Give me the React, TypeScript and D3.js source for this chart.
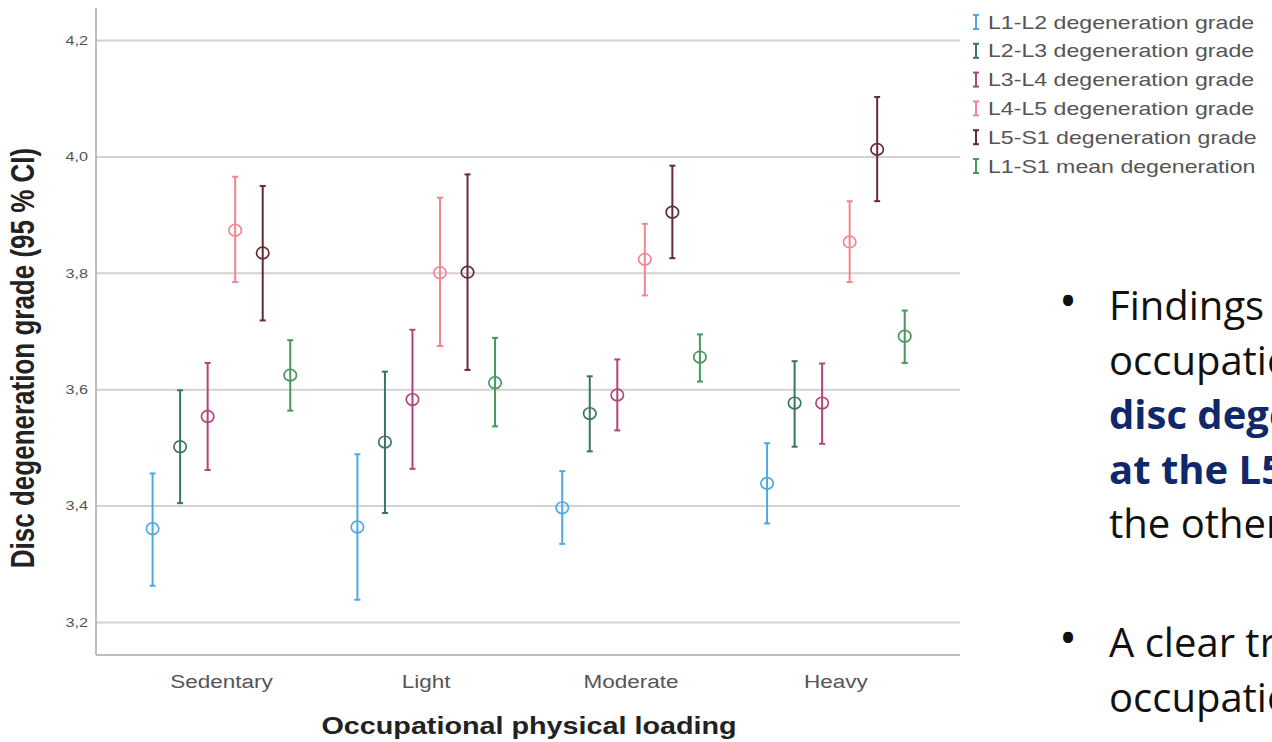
import { useEffect, useRef } from "react";
import * as d3 from "d3";

const categories = ["Sedentary", "Light", "Moderate", "Heavy"];
const seriesNames = [
  "L1-L2 degeneration grade",
  "L2-L3 degeneration grade",
  "L3-L4 degeneration grade",
  "L4-L5 degeneration grade",
  "L5-S1 degeneration grade",
  "L1-S1 mean degeneration",
];
const seriesColors = ["#4fa9e0", "#3a7469", "#b0457a", "#f2858f", "#642a36", "#47975f"];

// means and 95% CI per series, one value per category
const means = [
  [3.361, 3.364, 3.397, 3.439],
  [3.502, 3.51, 3.559, 3.577],
  [3.554, 3.583, 3.591, 3.577],
  [3.874, 3.801, 3.824, 3.854],
  [3.835, 3.802, 3.905, 4.013],
  [3.625, 3.612, 3.656, 3.692],
];
const lower = [
  [3.263, 3.239, 3.335, 3.37],
  [3.405, 3.388, 3.494, 3.502],
  [3.462, 3.464, 3.53, 3.507],
  [3.785, 3.675, 3.762, 3.785],
  [3.719, 3.634, 3.826, 3.924],
  [3.564, 3.537, 3.614, 3.646],
];
const upper = [
  [3.456, 3.489, 3.46, 3.508],
  [3.599, 3.631, 3.623, 3.649],
  [3.646, 3.703, 3.652, 3.645],
  [3.966, 3.93, 3.885, 3.924],
  [3.95, 3.97, 3.985, 4.103],
  [3.685, 3.689, 3.695, 3.736],
];
const yTicks = [3.2, 3.4, 3.6, 3.8, 4.0, 4.2];

const bulletLines = [
  { text: "Findings indicate", bold: false },
  { text: "occupational loading", bold: false },
  { text: "disc degeneration", bold: true },
  { text: "at the L5-S1 level", bold: true },
  { text: "the other levels", bold: false },
];
const bulletLines2 = [
  { text: "A clear trend", bold: false },
  { text: "occupational loading", bold: false },
];

const W = 1272;
const H = 742;
const STRETCH = 1.25; // the chart picture is stretched sideways
const FONT = "'Liberation Sans', Arial, sans-serif";

export default function App() {
  const svgRef = useRef<SVGSVGElement>(null);

  useEffect(() => {
    const svg = d3.select(svgRef.current);
    svg.selectAll("*").remove();
    svg.append("rect").attr("width", W).attr("height", H).attr("fill", "#ffffff");

    const left = 96;
    const right = 960;
    const top = 8;
    const bottom = 655;

    const y = d3.scaleLinear().domain([3.144, 4.256]).range([bottom, top]);
    const x = d3.scaleBand<string>().domain(categories).range([119, 938.3]);
    const xs = d3.scalePoint<string>().domain(seriesNames).range([0, x.bandwidth()]).padding(1.22);

    const stretched = (px: number, py: number) =>
      svg.append("g").attr("transform", `translate(${px},${py}) scale(${STRETCH},1)`);

    // gridlines
    svg.append("g")
      .selectAll("line")
      .data(yTicks)
      .join("line")
      .attr("x1", left)
      .attr("x2", right)
      .attr("y1", (d) => y(d))
      .attr("y2", (d) => y(d))
      .attr("stroke", "#d2d2d2")
      .attr("stroke-width", 2);

    // axes lines
    svg.append("line")
      .attr("x1", left).attr("x2", left).attr("y1", top).attr("y2", bottom)
      .attr("stroke", "#a8a8a8").attr("stroke-width", 1.5);
    svg.append("line")
      .attr("x1", left).attr("x2", right).attr("y1", bottom).attr("y2", bottom)
      .attr("stroke", "#a8a8a8").attr("stroke-width", 1.5);

    // y tick labels
    yTicks.forEach((t) => {
      stretched(88, y(t))
        .append("text")
        .attr("text-anchor", "end")
        .attr("dominant-baseline", "central")
        .attr("font-family", FONT)
        .attr("font-size", 13)
        .attr("fill", "#555")
        .text(t.toFixed(1).replace(".", ","));
    });

    // x tick labels
    categories.forEach((c) => {
      stretched((x(c) ?? 0) + x.bandwidth() / 2, 688)
        .append("text")
        .attr("text-anchor", "middle")
        .attr("font-family", FONT)
        .attr("font-size", 18)
        .attr("fill", "#555")
        .text(c);
    });

    // axis titles
    stretched(529, 734)
      .append("text")
      .attr("text-anchor", "middle")
      .attr("font-family", FONT)
      .attr("font-size", 23)
      .attr("font-weight", "bold")
      .attr("fill", "#222")
      .text("Occupational physical loading");

    svg.append("g")
      .attr("transform", `translate(34,358) scale(${STRETCH},1) rotate(-90)`)
      .append("text")
      .attr("text-anchor", "middle")
      .attr("font-family", FONT)
      .attr("font-size", 26)
      .attr("font-weight", "bold")
      .attr("fill", "#222")
      .text("Disc degeneration grade (95 % CI)");

    // error bars
    seriesNames.forEach((s, si) => {
      const color = seriesColors[si];
      categories.forEach((c, ci) => {
        const cx = (x(c) ?? 0) + (xs(s) ?? 0);
        const g = svg.append("g");
        g.append("line")
          .attr("x1", cx).attr("x2", cx)
          .attr("y1", y(lower[si][ci])).attr("y2", y(upper[si][ci]))
          .attr("stroke", color).attr("stroke-width", 2);
        [lower[si][ci], upper[si][ci]].forEach((v) => {
          g.append("line")
            .attr("x1", cx - 3).attr("x2", cx + 3)
            .attr("y1", y(v)).attr("y2", y(v))
            .attr("stroke", color).attr("stroke-width", 2);
        });
        g.append("ellipse")
          .attr("cx", cx)
          .attr("cy", y(means[si][ci]))
          .attr("rx", 6.2)
          .attr("ry", 5.8)
          .attr("fill", "none")
          .attr("stroke", color)
          .attr("stroke-width", 1.7);
      });
    });

    // legend
    seriesNames.forEach((s, i) => {
      const ly = 22 + i * 28.8;
      const lx = 976;
      const col = seriesColors[i];
      svg.append("line").attr("x1", lx).attr("x2", lx).attr("y1", ly - 7).attr("y2", ly + 7)
        .attr("stroke", col).attr("stroke-width", 2);
      [ly - 7, ly + 7].forEach((yy) =>
        svg.append("line").attr("x1", lx - 3).attr("x2", lx + 3).attr("y1", yy).attr("y2", yy)
          .attr("stroke", col).attr("stroke-width", 2)
      );
      stretched(988, ly)
        .append("text")
        .attr("dominant-baseline", "central")
        .attr("font-family", FONT)
        .attr("font-size", 18.5)
        .attr("fill", "#555")
        .text(s);
    });

    // slide bullet text
    const bulletBlock = (lines: { text: string; bold: boolean }[], y0: number) => {
      svg.append("text")
        .attr("x", 1068)
        .attr("y", y0 - 2)
        .attr("text-anchor", "middle")
        .attr("font-family", "'Open Sans', sans-serif")
        .attr("font-size", 48)
        .attr("fill", "#111")
        .text("\u2022");
      lines.forEach((l, i) => {
        svg.append("text")
          .attr("x", 1109)
          .attr("y", y0 + i * 54.5)
          .attr("font-family", "'Open Sans', sans-serif")
          .attr("font-size", 40)
          .attr("font-weight", l.bold ? "bold" : "normal")
          .attr("fill", l.bold ? "#10286a" : "#111")
          .text(l.text);
      });
    };
    bulletBlock(bulletLines, 320);
    bulletBlock(bulletLines2, 657);
  }, []);

  return (
    <svg
      ref={svgRef}
      width={W}
      height={H}
      style={{ position: "absolute", left: 0, top: 0, display: "block" }}
    />
  );
}
